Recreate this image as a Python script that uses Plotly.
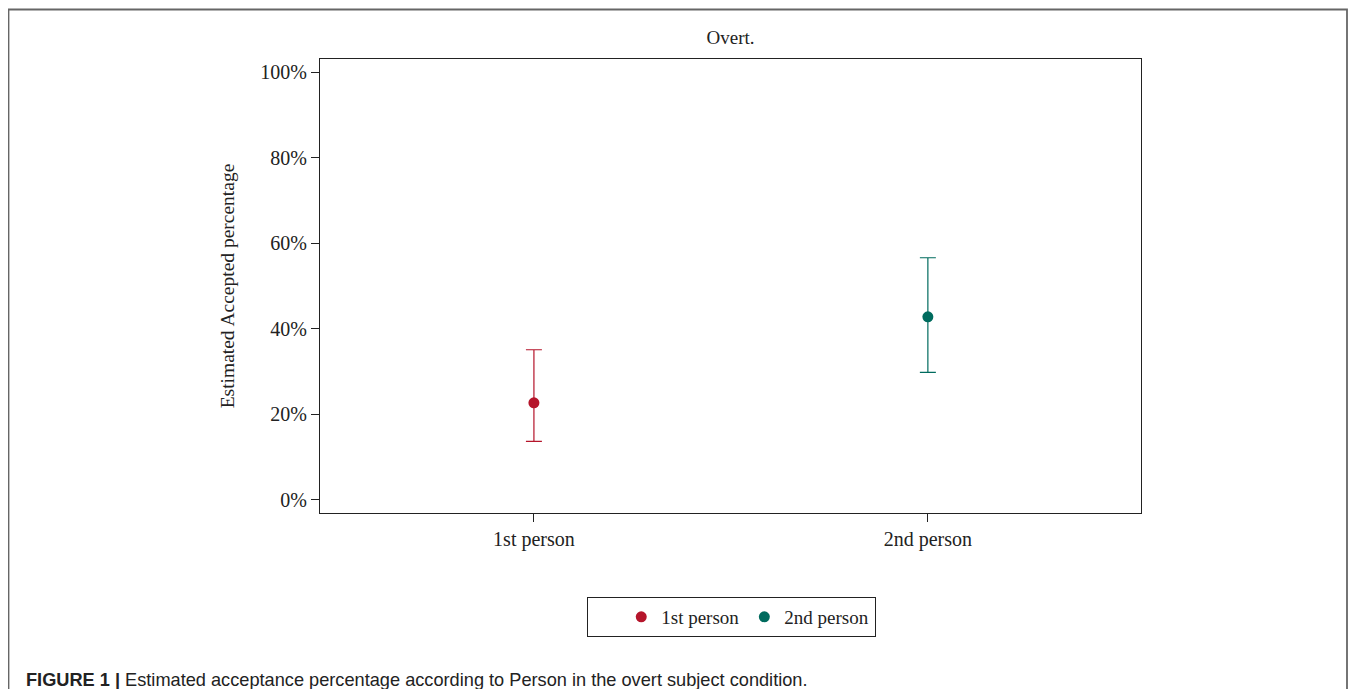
import plotly.graph_objects as go

categories = ["1st person", "2nd person"]
estimates = [22.7, 42.8]
upper = [35.1, 56.6]
lower = [13.7, 29.8]
colors = ["#B5152B", "#006B5E"]
y_ticks = [0, 20, 40, 60, 80, 100]
y_tick_labels = ["0%", "20%", "40%", "60%", "80%", "100%"]

OFF = 8  # page body margin
W, H = 1357 - OFF, 697 - 2 * OFF
L, R, T, B = 320 - OFF, 1141 - OFF, 59 - OFF, 513 - OFF

def px(x):
    return (x - OFF - L) / (R - L)

def py(y):
    return (B - (y - OFF)) / (B - T)

fig = go.Figure()
for i, cat in enumerate(categories):
    fig.add_trace(go.Scatter(
        x=[cat], y=[estimates[i]], mode="markers", name=cat,
        marker=dict(color=colors[i], size=11),
        error_y=dict(type="data", symmetric=False,
                     array=[upper[i] - estimates[i]],
                     arrayminus=[estimates[i] - lower[i]],
                     color=colors[i], thickness=1.2, width=8),
    ))

serif = "Liberation Serif, Times New Roman, serif"
fig.update_layout(
    width=W, height=H,
    margin=dict(l=L, r=W - R, t=T, b=H - B),
    paper_bgcolor="white", plot_bgcolor="white",
    font=dict(family=serif, color="#222", size=19),
    title=dict(text="Overt.", x=0.5, xref="paper", y=1 - (37 - OFF) / H, yanchor="middle",
               font=dict(family=serif, size=19, color="#222")),
    xaxis=dict(type="category", range=[-0.543, 1.541], showgrid=False,
               showline=True, linecolor="#222", linewidth=1.4, mirror=True,
               ticks="outside", ticklen=8, tickcolor="#222",
               tickfont=dict(size=20), zeroline=False),
    yaxis=dict(range=[-3.04, 103.04], tickvals=y_ticks, ticktext=y_tick_labels,
               showgrid=False, showline=True, linecolor="#222", linewidth=1.4, mirror=True,
               ticks="outside", ticklen=8, tickcolor="#222", zeroline=False,
               tickfont=dict(size=20),
               title=dict(text="Estimated Accepted percentage", font=dict(size=19.5), standoff=20)),
    showlegend=True,
    legend=dict(orientation="h", x=px(731), xanchor="center", y=py(617), yanchor="middle",
                bordercolor="#222", borderwidth=1, font=dict(size=19),
                title=dict(text="&nbsp;" * 5, font=dict(size=19)),
                traceorder="normal"),
)

# outer figure frame
fig.add_shape(type="rect", xref="paper", yref="paper",
              x0=px(8.5), x1=px(1347), y0=py(720), y1=py(9.5),
              line=dict(color="#666", width=1.8), layer="below")

fig.add_annotation(
    text="<b>FIGURE 1 |</b> Estimated acceptance percentage according to Person in the overt subject condition.",
    xref="paper", yref="paper", x=px(24), y=py(680), xanchor="left", yanchor="middle",
    showarrow=False, font=dict(family="Liberation Sans, Arial, sans-serif", size=18.2, color="#222"))

fig.write_html("out.html")
